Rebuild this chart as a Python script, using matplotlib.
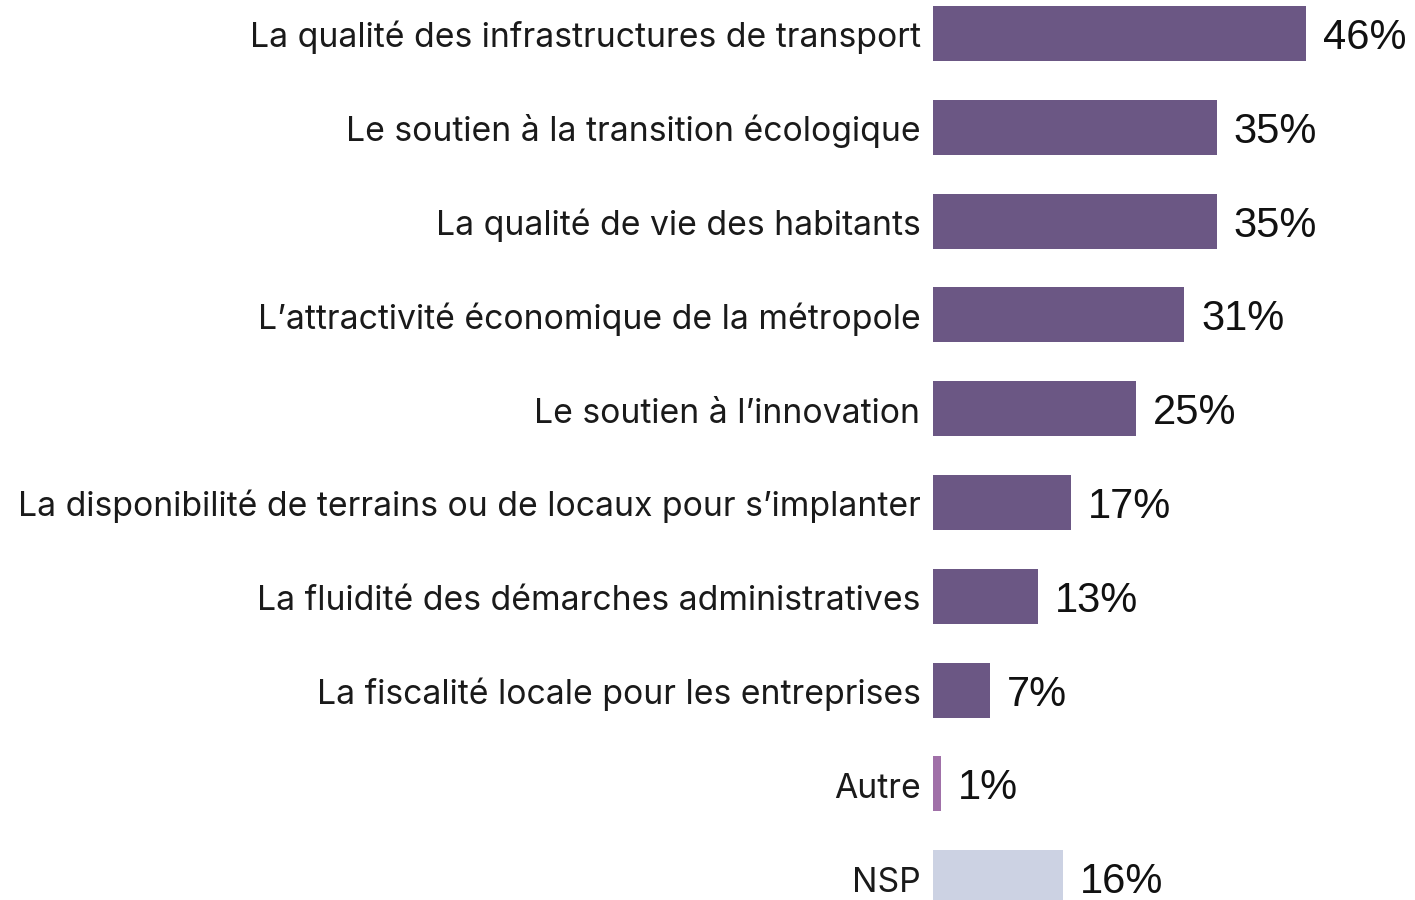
import matplotlib

matplotlib.use("Agg")
import matplotlib.pyplot as plt

categories = [
    "La qualité des infrastructures de transport",
    "Le soutien à la transition écologique",
    "La qualité de vie des habitants",
    "L\u2019attractivité économique de la métropole",
    "Le soutien à l\u2019innovation",
    "La disponibilité de terrains ou de locaux pour s\u2019implanter",
    "La fluidité des démarches administratives",
    "La fiscalité locale pour les entreprises",
    "Autre",
    "NSP",
]
values = [46, 35, 35, 31, 25, 17, 13, 7, 1, 16]
value_labels = ["46%", "35%", "35%", "31%", "25%", "17%", "13%", "7%", "1%", "16%"]

MAIN = "#6b5784"
OTHER = "#a070a8"
DONT_KNOW = "#ccd2e3"
colors = [MAIN] * 8 + [OTHER, DONT_KNOW]

plt.rcParams["font.family"] = ["Inter", "DejaVu Sans"]

fig = plt.figure(figsize=(14.15, 9.0), dpi=100)
ax = fig.add_axes([933 / 1415, 0.0, 482 / 1415, 1.0])

y = list(range(len(values)))
ax.barh(y, values, height=0.586, color=colors, align="center")
ax.set_xlim(0, 482 / 8.11)
ax.set_ylim(9.238, -0.357)

for yi, v, lab in zip(y, values, value_labels):
    ax.annotate(lab, (v, yi), xytext=(12, -11.2), textcoords="offset points",
                va="baseline", ha="left", fontsize=30, color="#111111",
                family=["Liberation Sans", "DejaVu Sans"])

for yi, cat in zip(y, categories):
    ax.annotate(cat, (0, yi), xytext=(-9, -10), textcoords="offset points",
                va="baseline", ha="right", fontsize=24.3, color="#1a1a1a",
                annotation_clip=False)

ax.axis("off")
fig.savefig("out.png", dpi=100)
